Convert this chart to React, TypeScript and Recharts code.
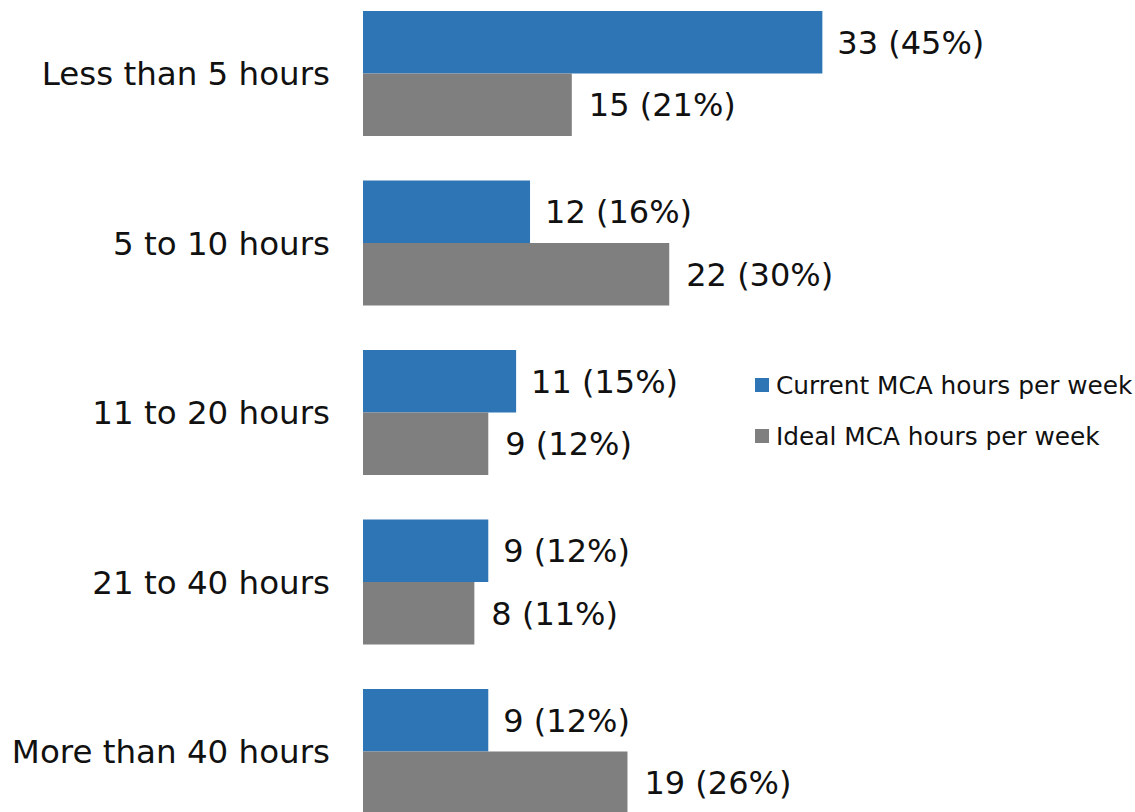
import React from 'react';
import { BarChart, Bar, XAxis, YAxis, LabelList } from 'recharts';

const categories = ['Less than 5 hours', '5 to 10 hours', '11 to 20 hours', '21 to 40 hours', 'More than 40 hours'];
const currentCounts = [33, 12, 11, 9, 9];
const currentPct = [45, 16, 15, 12, 12];
const idealCounts = [15, 22, 9, 8, 19];
const idealPct = [21, 30, 12, 11, 26];
const seriesNames = ['Current MCA hours per week', 'Ideal MCA hours per week'];

const data = categories.map((c, i) => ({
  name: c,
  current: currentCounts[i],
  ideal: idealCounts[i],
  currentLabel: `${currentCounts[i]} (${currentPct[i]}%)`,
  idealLabel: `${idealCounts[i]} (${idealPct[i]}%)`,
}));

const FONT = '"DejaVu Sans", sans-serif';
const BLUE = '#2E75B6';
const GRAY = '#7F7F7F';
const COLORS = [BLUE, GRAY];

const OFFSET = 11.25;

export default function App() {
  return (
    <div style={{ position: 'absolute', left: 0, top: 0, width: 1135, height: 812, overflow: 'hidden', background: '#fff' }}>
      <div style={{ position: 'absolute', left: 0, top: -OFFSET }}>
        <BarChart
          width={1135}
          height={847.5}
          data={data}
          layout="vertical"
          margin={{ top: 0, right: 76, bottom: 0, left: 0 }}
          barGap={0}
          barSize={62.5}
        >
          <XAxis type="number" domain={[0, 50]} hide />
          <YAxis
            type="category"
            dataKey="name"
            width={363}
            axisLine={false}
            tickLine={false}
            tickSize={0}
            tickMargin={33}
            tick={{ fontFamily: FONT, fontSize: 32.5, fill: '#111' }}
            interval={0}
          />
          <Bar dataKey="current" name={seriesNames[0]} fill={BLUE} isAnimationActive={false}>
            <LabelList dataKey="currentLabel" position="right" offset={15} style={{ fontFamily: FONT, fontSize: 32, fill: '#111' }} />
          </Bar>
          <Bar dataKey="ideal" name={seriesNames[1]} fill={GRAY} isAnimationActive={false}>
            <LabelList dataKey="idealLabel" position="right" offset={17} style={{ fontFamily: FONT, fontSize: 32, fill: '#111' }} />
          </Bar>
        </BarChart>
      </div>
      <div style={{ position: 'absolute', left: 755, top: 359.5, fontFamily: FONT, fontSize: 24.8, color: '#111' }}>
        {seriesNames.map((n, i) => (
          <div key={n} style={{ display: 'flex', alignItems: 'center', height: 51, whiteSpace: 'nowrap' }}>
            <span style={{ display: 'inline-block', width: 14, height: 14, background: COLORS[i], marginRight: 7 }} />
            <span>{n}</span>
          </div>
        ))}
      </div>
    </div>
  );
}
